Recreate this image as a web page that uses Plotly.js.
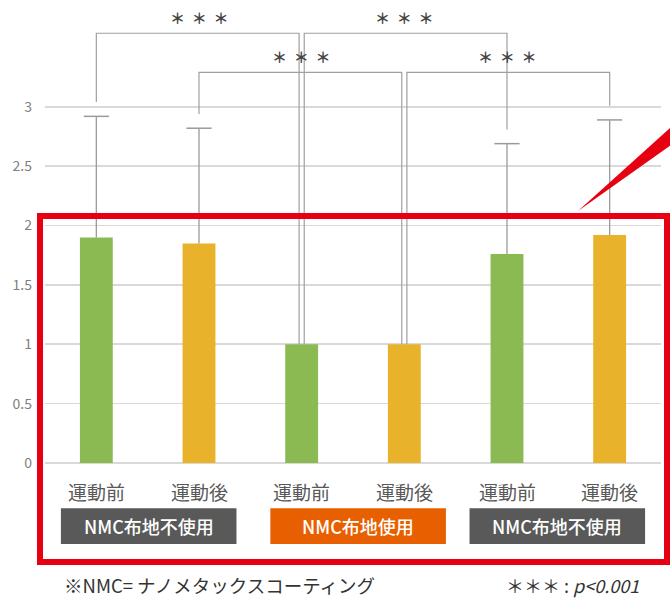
<!DOCTYPE html>
<html><head><meta charset="utf-8">
<script src="https://cdn.plot.ly/plotly-3.0.1.min.js"></script>
<style>body{margin:0;background:#fff}#chart{width:670px;height:598px}</style>
</head><body><div id="chart"></div>
<script>
// ---- data ----
const catLabels = ['運動前','運動後','運動前','運動後','運動前','運動後'];
const means     = [1.90, 1.85, 1.00, 1.00, 1.76, 1.92];
const errTop    = [2.92, 2.82, null, null, 2.69, 2.89];   // upper end of error bar
const groupLabels = ['NMC布地不使用','NMC布地使用','NMC布地不使用'];
const groupCenters = [0.51, 2.55, 4.49];
const groupColors = ['#595959','#e85f00','#595959'];
const barColors = ['#8bba52','#e8b22a','#8bba52','#e8b22a','#8bba52','#e8b22a'];
const yTicks = [0,0.5,1,1.5,2,2.5,3];
const yTickText = ['0','0.5','1','1.5','2','2.5','3'];
// significance brackets: [left bar, right bar, bracket level]
const bracketFrom = [0, 2, 1, 3];
const bracketTo   = [2, 4, 3, 5];
const bracketLevel= [3.62, 3.62, 3.29, 3.29];
const sigText = '＊\u00a0\u00a0＊\u00a0\u00a0＊';
const footLeft = '※NMC= ナノメタックスコーティング';
const footRight = '＊＊＊ : <i>p&lt;0.001</i>';

// ---- geometry helpers ----
const W=670,H=598, ML=45, MR=9;
const yMin=-1.137, yMax=3.90;
const px2paperX = px => (px-ML)/(W-ML-MR);
const py2paperY = py => 1-py/H;
const x = means.map((_,i)=>i);
const legBottom = i => errTop[i]!=null ? errTop[i]+0.12 : means[i];

const traces = [];
traces.push({type:'bar', x:x, y:means, width:0.32, marker:{color:barColors}, hoverinfo:'skip'});

// error bars (upper only)
const ex=[], ey=[], cx=[], cy=[];
x.forEach(i=>{ if(errTop[i]!=null){ ex.push(i,i,null); ey.push(means[i],errTop[i],null); cx.push(i); cy.push(errTop[i]); }});
traces.push({type:'scatter', mode:'lines', x:ex, y:ey, line:{color:'#9a9a9a', width:1.3}, hoverinfo:'skip'});
traces.push({type:'scatter', mode:'markers', x:cx, y:cy, marker:{symbol:'line-ew', size:18, line:{color:'#9a9a9a', width:1.5}}, hoverinfo:'skip'});

// brackets
const annotations = [];
bracketFrom.forEach((a,k)=>{
  const b = bracketTo[k];
  const off = 0.025;
  const xa = (a===2||a===3) ? a+off : a;
  const xb = (b===2||b===3) ? b-off : b;
  traces.push({type:'scatter', mode:'lines', x:[xa,xa,xb,xb], y:[legBottom(a),bracketLevel[k],bracketLevel[k],legBottom(b)],
    line:{color:'#a0a0a0', width:1.2}, hoverinfo:'skip'});
  annotations.push({x:(a+b)/2, y:bracketLevel[k]+0.13, xref:'x', yref:'y', text:sigText, showarrow:false,
    font:{family:'Noto Sans CJK JP', size:15, color:'#444', weight:700}, yanchor:'middle'});
});

// category labels
catLabels.forEach((t,i)=>annotations.push({x:i, y:-0.244, xref:'x', yref:'y', text:t, showarrow:false,
  font:{family:'Noto Sans CJK JP', size:19, color:'#595959'}, yanchor:'middle'}));

const shapes = [];
groupLabels.forEach((g,k)=>{
  const c = groupCenters[k];
  shapes.push({type:'rect', xref:'x', yref:'y', x0:c-0.855, x1:c+0.855, y0:-0.38, y1:-0.683, fillcolor:groupColors[k], line:{width:0}, layer:'below'});
  annotations.push({x:c, y:-0.532, xref:'x', yref:'y', text:g, showarrow:false,
    font:{family:'Noto Sans CJK JP', size:18, color:'#ffffff', weight:500}, yanchor:'middle'});
});

// red highlight frame & pointer
shapes.push({type:'rect', xref:'paper', yref:'paper', x0:px2paperX(40), x1:px2paperX(667), y0:py2paperY(562), y1:py2paperY(216),
  line:{color:'#e60012', width:6}, fillcolor:'rgba(0,0,0,0)'});
shapes.push({type:'path', xref:'paper', yref:'paper',
  path:`M ${px2paperX(578)} ${py2paperY(211)} L ${px2paperX(671)} ${py2paperY(127)} L ${px2paperX(671)} ${py2paperY(145)} Z`,
  fillcolor:'#e60012', line:{width:0}});

annotations.push({x:px2paperX(62), y:py2paperY(585), xref:'paper', yref:'paper', text:footLeft, showarrow:false, xanchor:'left', yanchor:'middle',
  font:{family:'Noto Sans CJK JP', size:18.5, color:'#333'}});
annotations.push({x:px2paperX(641), y:py2paperY(585), xref:'paper', yref:'paper', text:footRight, showarrow:false, xanchor:'right', yanchor:'middle',
  font:{family:'Noto Sans CJK JP', size:18, color:'#333'}});

const layout = {
  width:W, height:H, margin:{l:ML, r:MR, t:0, b:0},
  paper_bgcolor:'#fff', plot_bgcolor:'#fff', showlegend:false,
  xaxis:{range:[-0.5,5.5], showgrid:false, zeroline:false, showticklabels:false, ticks:'', fixedrange:true},
  yaxis:{range:[yMin,yMax], tickvals:yTicks, ticktext:yTickText, showgrid:true, gridcolor:'#d9d9d9', gridwidth:1.6, zeroline:false,
    ticks:'', ticklabelstandoff:12, tickfont:{family:'Noto Sans CJK JP', size:14, color:'#7f7f7f'}, fixedrange:true},
  annotations:annotations, shapes:shapes
};
Plotly.newPlot('chart', traces, layout, {displayModeBar:false, staticPlot:true});
</script></body></html>
